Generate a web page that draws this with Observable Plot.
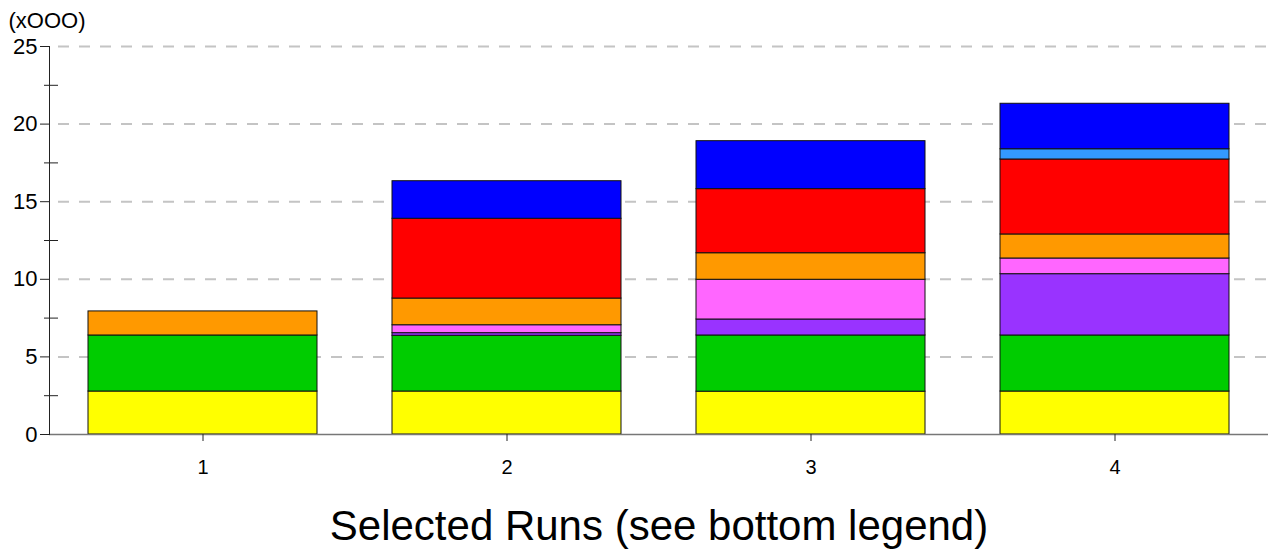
<!DOCTYPE html>
<html>
<head>
<meta charset="utf-8">
<script src="https://cdn.jsdelivr.net/npm/d3@7"></script>
<script src="https://cdn.jsdelivr.net/npm/@observablehq/plot@0.6"></script>
<style>
  body { margin: 0; background: #fff; }
</style>
</head>
<body>
<div id="chart"></div>
<script>
// Runs along the x axis
const runs = ["1", "2", "3", "4"];

// Stacked layers, bottom to top, with their fill colours
const layers = ["L1", "L2", "L3", "L4", "L5", "L6", "L7", "L8"];
const layerColors = ["#ffff00", "#00cc00", "#9933ff", "#ff66ff", "#ff9900", "#ff0000", "#3399ff", "#0000ff"];

// Segment sizes per run, in thousands
const layer1 = [2.77, 2.77, 2.76, 2.77];
const layer2 = [3.61, 3.59, 3.62, 3.61];
const layer3 = [0, 0.17, 1.03, 3.95];
const layer4 = [0, 0.51, 2.56, 1.01];
const layer5 = [1.55, 1.72, 1.71, 1.55];
const layer6 = [0, 5.14, 4.13, 4.83];
const layer7 = [0, 0, 0, 0.66];
const layer8 = [0, 2.42, 3.09, 2.93];

// Axis ticks and text
const yMajorTicks = [0, 5, 10, 15, 20, 25];
const yMinorTicks = [2.5, 7.5, 12.5, 17.5, 22.5];
const gridTicks = [5, 10, 15, 20, 25];
const yUnitLabel = "(xOOO)";
const xTitle = "Selected Runs (see bottom legend)";

const layerValues = [layer1, layer2, layer3, layer4, layer5, layer6, layer7, layer8];
const rows = [];
layers.forEach((layer, i) => {
  runs.forEach((run, j) => {
    const value = layerValues[i][j];
    if (value > 0) rows.push({run, layer, value});
  });
});

const chart = Plot.plot({
  width: 1268,
  height: 554,
  marginLeft: 49,
  marginRight: 0,
  marginTop: 46,
  marginBottom: 120,
  style: {fontFamily: "'Liberation Sans', Arial, sans-serif", background: "#fff", color: "#000"},
  x: {domain: runs, paddingInner: 0.247, paddingOuter: 0.125, axis: null},
  y: {domain: [0, 25], axis: null},
  color: {domain: layers, range: layerColors},
  marks: [
    Plot.ruleY(gridTicks, {stroke: "#c4c4c4", strokeWidth: 2, strokeDasharray: "11,10", insetLeft: 9}),
    Plot.barY(rows, {x: "run", y: "value", fill: "layer", stroke: "#111", strokeWidth: 1}),
    Plot.ruleY([0], {stroke: "#777", strokeWidth: 1.5}),
    Plot.axisY(yMajorTicks, {tickSize: 9, tickPadding: 3, fontSize: 22, label: null, stroke: "#222"}),
    Plot.axisY(yMinorTicks, {tickSize: 14, dx: 9, tickFormat: () => "", label: null, stroke: "#222"}),
    Plot.frame({anchor: "left", stroke: "#222"}),
    Plot.axisX({tickSize: 7, tickPadding: 18, fontSize: 20, label: null, stroke: "#222"}),
    Plot.text([yUnitLabel], {text: d => d, frameAnchor: "top-left", textAnchor: "start", lineAnchor: "middle", dx: -41, dy: -26, fontSize: 22}),
    Plot.text([xTitle], {text: d => d, frameAnchor: "bottom", lineAnchor: "middle", dy: 92, fontSize: 42})
  ]
});

document.getElementById("chart").appendChild(chart);
</script>
</body>
</html>
